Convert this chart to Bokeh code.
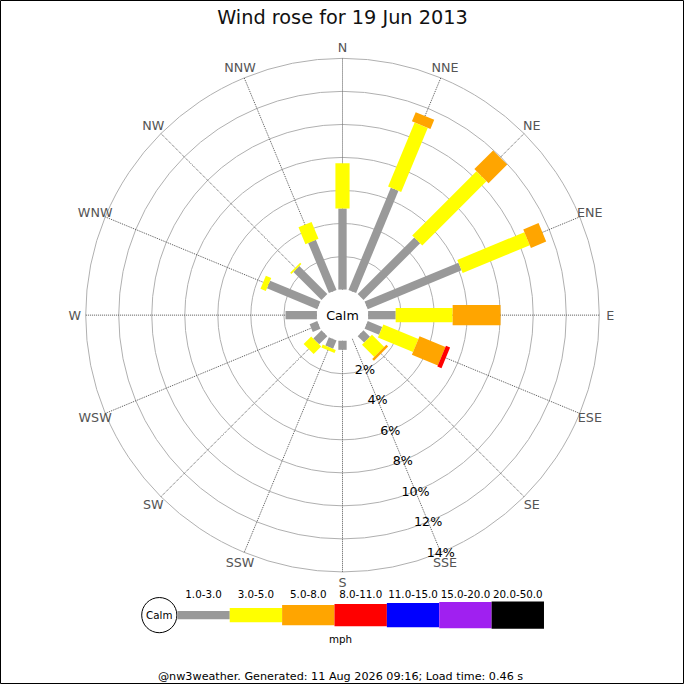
import math
from bokeh.plotting import figure
from bokeh.models import Range1d
from bokeh.core.properties import value
from bokeh.embed import file_html
from bokeh.resources import INLINE

# ---------------- data ----------------
directions = ["N", "NNE", "NE", "ENE", "E", "ESE", "SE", "SSE",
              "S", "SSW", "SW", "WSW", "W", "WNW", "NW", "NNW"]
bands = ["1.0-3.0", "3.0-5.0", "5.0-8.0", "8.0-11.0", "11.0-15.0", "15.0-20.0", "20.0-50.0"]
band_colors = ["#999999", "#ffff00", "#ffa500", "#ff0000", "#0000ff", "#a020f0", "#000000"]
# percentage of time per direction for each speed band (mph)
pct_1_3   = [4.9, 6.7, 4.85, 6.15, 1.67, 0.95, 0.55, 0.0, 0.55, 0.55, 0.7, 0.5, 1.9, 3.3, 2.4, 3.28]
pct_3_5   = [2.75, 4.2, 5.5, 4.4, 3.45, 2.3, 1.05, 0.0, 0.0, 0.2, 0.65, 0.0, 0.0, 0.35, 0.1, 1.1]
pct_5_8   = [0.0, 0.6, 1.6, 1.0, 2.9, 1.7, 0.15, 0.0, 0.0, 0.0, 0.0, 0.0, 0.0, 0.0, 0.0, 0.0]
pct_8_11  = [0.0, 0.0, 0.0, 0.0, 0.0, 0.27, 0.0, 0.0, 0.0, 0.0, 0.0, 0.0, 0.0, 0.0, 0.0, 0.0]
pct_11_15 = [0.0] * 16
pct_15_20 = [0.0] * 16
pct_20_50 = [0.0] * 16
ring_ticks = [2, 4, 6, 8, 10, 12, 14]
ring_labels = ["2%", "4%", "6%", "8%", "10%", "12%", "14%"]
title_text = "Wind rose for 19 Jun 2013"
unit_text = "mph"
footer_text = "@nw3weather. Generated: 11 Aug 2026 09:16; Load time: 0.46 s"

series = [pct_1_3, pct_3_5, pct_5_8, pct_8_11, pct_11_15, pct_15_20, pct_20_50]

# ---------------- layout ----------------
W = 684
S = W / 700.0
R0 = 26.2      # calm circle radius (0 %)
K = 16.9       # units per percent
band_widths = [8.5, 14.5, 20.5, 23, 25, 27, 28]
FONT = value("DejaVu Sans")


def rad(p):
    return R0 + K * p


def fs(px):
    return "%.1fpx" % (px * S)


p = figure(width=W, height=W, x_range=Range1d(-350, 350), y_range=Range1d(-378, 322),
           output_backend="svg", toolbar_location=None, min_border=0)
p.axis.visible = False
p.grid.visible = False
p.outline_line_color = "black"
p.outline_line_width = 1
p.background_fill_color = "white"
p.border_fill_color = "white"

angles = [i * 2 * math.pi / len(directions) for i in range(len(directions))]

# rings
p.circle(x=[0] * len(ring_ticks), y=[0] * len(ring_ticks), radius=[rad(t) for t in ring_ticks],
         fill_color=None, line_color="#b0b0b0", line_width=1)

# spokes
rmax = rad(ring_ticks[-1])
p.segment(x0=[R0 * math.sin(a) for a in angles], y0=[R0 * math.cos(a) for a in angles],
          x1=[rmax * math.sin(a) for a in angles], y1=[rmax * math.cos(a) for a in angles],
          line_color="#555555", line_width=1, line_dash="1 1")

# bars
cum = [0.0] * len(directions)
for bi, vals in enumerate(series):
    x0, y0, x1, y1 = [], [], [], []
    for di, v in enumerate(vals):
        if v > 0:
            a = angles[di]
            r_a = rad(cum[di])
            r_b = rad(cum[di] + v)
            x0.append(r_a * math.sin(a)); y0.append(r_a * math.cos(a))
            x1.append(r_b * math.sin(a)); y1.append(r_b * math.cos(a))
        cum[di] += v
    if x0:
        p.segment(x0=x0, y0=y0, x1=x1, y1=y1, line_color=band_colors[bi],
                  line_width=band_widths[bi] * S, line_cap="butt")

# calm circle
p.circle(x=[0], y=[0], radius=R0 - 0.5, fill_color="white", line_color=None)
p.text(x=[0], y=[0], text=["Calm"], text_align="center", text_baseline="middle",
       text_font=FONT, text_font_size=fs(13), text_color="black")

# ring labels along SSE
a_lab = angles[directions.index("SSE")]
p.text(x=[rad(t) * math.sin(a_lab) for t in ring_ticks],
       y=[rad(t) * math.cos(a_lab) for t in ring_ticks],
       text=ring_labels, text_align="center", text_baseline="middle",
       text_font=FONT, text_font_size=fs(13), text_color="black")

# direction labels
RL = 274
p.text(x=[RL * math.sin(a) for a in angles], y=[RL * math.cos(a) for a in angles],
       text=directions, text_align="center", text_baseline="middle",
       text_font=FONT, text_font_size=fs(13), text_color="#555555")

# title
p.text(x=[0], y=[305], text=[title_text], text_align="center", text_baseline="middle",
       text_font=FONT, text_font_size=fs(19.8), text_color="#111111")

# legend
LX0 = -169.0
LSTEP = 53.6
LY = -307.0
p.circle(x=[LX0 - 18.5], y=[LY], radius=18, fill_color="white", line_color="black", line_width=1)
p.text(x=[LX0 - 18.5], y=[LY], text=["Calm"], text_align="center", text_baseline="middle",
       text_font=FONT, text_font_size=fs(10.5), text_color="black")
cx = [LX0 + LSTEP * (i + 0.5) for i in range(len(bands))]
p.rect(x=cx, y=[LY] * len(bands), width=LSTEP, height=band_widths,
       fill_color=band_colors, line_color=None)
p.text(x=cx, y=[-285] * len(bands), text=bands, text_align="center", text_baseline="middle",
       text_font=FONT, text_font_size=fs(10.5), text_color="black")
p.text(x=[-2], y=[-331], text=[unit_text], text_align="center", text_baseline="middle",
       text_font=FONT, text_font_size=fs(10.5), text_color="black")

# footer
p.text(x=[-2], y=[-370], text=[footer_text], text_align="center", text_baseline="middle",
       text_font=FONT, text_font_size=fs(11.5), text_color="black")

open("out.html", "w").write(file_html(p, INLINE))
